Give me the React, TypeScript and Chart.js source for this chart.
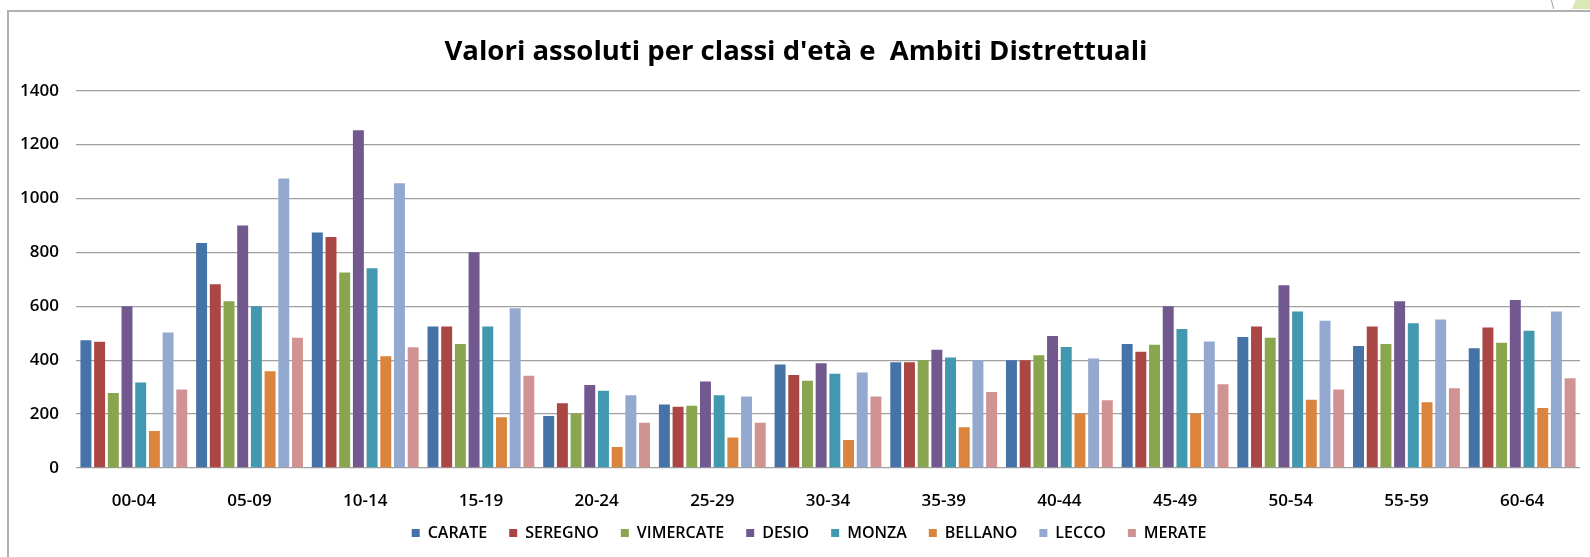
import { useEffect, useRef } from 'react';
import { Chart, registerables } from 'chart.js';

Chart.register(...registerables);

const categories = ['00-04', '05-09', '10-14', '15-19', '20-24', '25-29', '30-34', '35-39', '40-44', '45-49', '50-54', '55-59', '60-64'];

const carate = [474, 835, 874, 525, 193, 236, 384, 392, 400, 460, 486, 453, 444];
const seregno = [468, 682, 857, 525, 240, 227, 345, 392, 400, 431, 525, 525, 521];
const vimercate = [278, 619, 725, 460, 202, 231, 324, 400, 418, 457, 483, 460, 465];
const desio = [600, 900, 1253, 801, 308, 321, 389, 439, 490, 600, 678, 619, 623];
const monza = [317, 600, 741, 525, 287, 270, 350, 410, 449, 516, 581, 537, 509];
const bellano = [137, 359, 415, 188, 78, 113, 104, 151, 202, 202, 253, 244, 223];
const lecco = [503, 1074, 1057, 593, 270, 265, 354, 400, 406, 469, 546, 551, 581];
const merate = [291, 483, 448, 342, 168, 168, 265, 282, 251, 311, 291, 296, 333];

const seriesNames = ['CARATE', 'SEREGNO', 'VIMERCATE', 'DESIO', 'MONZA', 'BELLANO', 'LECCO', 'MERATE'];
const seriesValues = [carate, seregno, vimercate, desio, monza, bellano, lecco, merate];
const seriesColors = ['#4572A7', '#AA4643', '#89A54E', '#71588F', '#4198AF', '#DB843D', '#93A9CF', '#D19392'];

const yMin = 0;
const yMax = 1400;
const yStep = 200;

const titleText = "Valori assoluti per classi d'età e  Ambiti Distrettuali";

const shiftLegend = {
  id: 'shiftLegend',
  afterLayout(chart: any) {
    const l = chart.legend;
    if (!l) return;
    l.top -= 7;
    l.bottom -= 7;
    l.left += 13;
    l.right += 13;
  },
};

export default function App() {
  const ref = useRef<HTMLCanvasElement>(null);

  useEffect(() => {
    if (!ref.current) return;
    const tickFont = { family: "'Open Sans', sans-serif", size: 17, weight: 600 as any };
    const legendFont = { family: "'Open Sans', sans-serif", size: 16, weight: 600 as any };
    const chart = new Chart(ref.current, {
      type: 'bar',
      data: {
        labels: categories,
        datasets: seriesNames.map((name, i) => ({
          label: name,
          data: seriesValues[i],
          backgroundColor: seriesColors[i],
          borderWidth: 0,
          categoryPercentage: 0.947,
          barPercentage: 0.8,
        })),
      },
      options: {
        responsive: false,
        animation: false,
        layout: { padding: { left: 12, right: 10, top: 0, bottom: 0 } },
        plugins: {
          title: {
            display: true,
            text: titleText,
            color: '#000',
            font: { family: "'Open Sans', sans-serif", size: 27.5, weight: 'bold', lineHeight: 1.2 },
            padding: { top: 36, bottom: 21.7 },
          },
          legend: {
            position: 'bottom',
            labels: {
              boxWidth: 8,
              boxHeight: 8,
              padding: 22,
              color: '#000',
              font: legendFont,
            },
          },
          tooltip: { enabled: false },
        },
        scales: {
          x: {
            grid: { display: false },
            border: { display: false },
            ticks: { color: '#000', font: tickFont, padding: 15, maxRotation: 0, autoSkip: false },
            afterFit: (s: any) => { s.height = 42; },
          },
          y: {
            min: yMin,
            max: yMax,
            ticks: { stepSize: yStep, color: '#000', font: tickFont, padding: 17, callback: (v: any) => String(v) },
            grid: { color: '#a0a0a0', lineWidth: 1.3, drawTicks: false },
            border: { display: false },
            afterFit: (s: any) => { s.width = 64; },
          },
        },
      },
      plugins: [shiftLegend],
    });
    return () => chart.destroy();
  }, []);

  return (
    <div style={{ position: 'absolute', left: 0, top: 0, width: 1590, height: 557, overflow: 'hidden', background: '#fff' }}>
      <div style={{ position: 'absolute', left: 7, top: 10, width: 1600, height: 600, borderLeft: '2px solid #b0b0b0', borderTop: '2px solid #b0b0b0' }} />
      <div style={{ position: 'absolute', left: 1572, top: 0, width: 18, height: 9, background: '#d9e8b5', clipPath: 'polygon(20% 0, 100% 0, 100% 100%, 0 100%)' }} />
      <div style={{ position: 'absolute', left: 1552, top: 0, width: 1, height: 9, background: '#a0a0a0', transform: 'rotate(-15deg)' }} />
      <canvas ref={ref} width={1590} height={558} style={{ position: 'absolute', left: 0, top: 0, display: 'block' }} />
    </div>
  );
}
